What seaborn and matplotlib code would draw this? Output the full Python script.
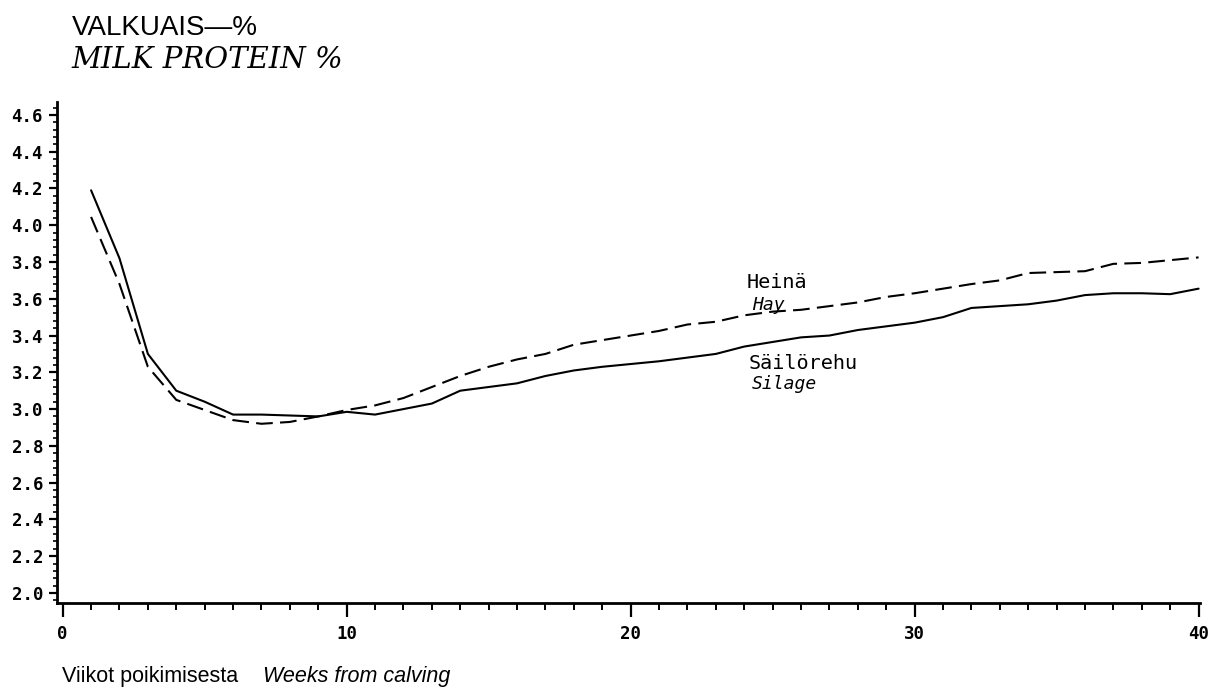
import numpy as np
import pandas as pd
import matplotlib
matplotlib.use("Agg")
import matplotlib.pyplot as plt
from matplotlib.ticker import MultipleLocator, FormatStrFormatter
import seaborn as sns

# Weekly mean milk protein content (%) by forage type
weeks = list(range(1, 41))
silage = [4.19, 3.82, 3.30, 3.10, 3.04, 2.97, 2.97, 2.965, 2.96, 2.985,
          2.97, 3.00, 3.03, 3.10, 3.12, 3.14, 3.18, 3.21, 3.23, 3.245,
          3.26, 3.28, 3.30, 3.34, 3.365, 3.39, 3.40, 3.43, 3.45, 3.47,
          3.50, 3.55, 3.56, 3.57, 3.59, 3.62, 3.63, 3.63, 3.625, 3.655]
hay = [4.045, 3.68, 3.23, 3.05, 2.995, 2.94, 2.92, 2.93, 2.96, 2.995,
       3.02, 3.06, 3.12, 3.18, 3.23, 3.27, 3.30, 3.35, 3.375, 3.40,
       3.425, 3.46, 3.475, 3.51, 3.53, 3.54, 3.56, 3.58, 3.61, 3.63,
       3.655, 3.68, 3.70, 3.74, 3.745, 3.75, 3.79, 3.795, 3.81, 3.825]
x_ticks = [0, 10, 20, 30, 40]
y_ticks = [2.0, 2.2, 2.4, 2.6, 2.8, 3.0, 3.2, 3.4, 3.6, 3.8, 4.0, 4.2, 4.4, 4.6]

df = pd.DataFrame({
    "week": weeks * 2,
    "protein": silage + hay,
    "feed": ["silage"] * len(weeks) + ["hay"] * len(weeks),
})

sns.set_style("ticks")
plt.rcParams["font.family"] = ["DejaVu Sans"]

fig = plt.figure(figsize=(12.26, 6.99), dpi=100)
ax = fig.add_axes([0.0465, 0.1373, 0.9323, 0.7167])

sns.lineplot(data=df, x="week", y="protein", style="feed",
             dashes={"silage": "", "hay": (8, 3.5)},
             color="black", linewidth=1.5, legend=False, ax=ax)

ax.set_xlim(-0.2, 40.05)
ax.set_ylim(1.945, 4.67)
ax.set_xticks(x_ticks)
ax.set_yticks(y_ticks)
ax.xaxis.set_minor_locator(MultipleLocator(1))
ax.yaxis.set_minor_locator(MultipleLocator(0.04))
ax.yaxis.set_major_formatter(FormatStrFormatter("%.1f"))
ax.set_xlabel("")
ax.set_ylabel("")

sns.despine(ax=ax)
for side in ("left", "bottom"):
    ax.spines[side].set_linewidth(2)
    ax.spines[side].set_color("black")

ax.tick_params(axis="x", which="major", direction="out", length=10, width=1.6,
               pad=6, colors="black")
ax.tick_params(axis="x", which="minor", direction="out", length=5, width=1.4,
               colors="black")
ax.tick_params(axis="y", which="major", direction="out", length=6, width=1.6,
               pad=4, colors="black")
ax.tick_params(axis="y", which="minor", direction="out", length=3, width=1.2,
               colors="black")
for lab in ax.get_xticklabels() + ax.get_yticklabels():
    lab.set_fontfamily("DejaVu Sans Mono")
    lab.set_fontweight("bold")
    lab.set_fontsize(12.5)

# Titles
fig.text(0.0585, 0.950, "VALKUAIS\u2014%", fontsize=20, family="Liberation Sans",
         ha="left", va="baseline", color="black")
fig.text(0.0585, 0.903, "MILK PROTEIN %", fontsize=21, family="DejaVu Serif",
         style="italic", ha="left", va="baseline", color="black")

# Series labels
ax.text(24.1, 3.658, "Heinä", fontsize=14.5, family="DejaVu Sans Mono",
        ha="left", va="baseline", color="black")
ax.text(24.27, 3.54, "Hay", fontsize=13, family="DejaVu Sans Mono",
        style="italic", ha="left", va="baseline", color="black")
ax.text(24.15, 3.22, "Säilörehu", fontsize=14.5, family="DejaVu Sans Mono",
        ha="left", va="baseline", color="black")
ax.text(24.27, 3.11, "Silage", fontsize=13, family="DejaVu Sans Mono",
        style="italic", ha="left", va="baseline", color="black")

# Axis caption
fig.text(0.0505, 0.0243, "Viikot poikimisesta", fontsize=15.5,
         family="Liberation Sans", ha="left", va="baseline", color="black")
fig.text(0.2145, 0.0243, "Weeks from calving", fontsize=15.5,
         family="Liberation Sans", style="italic", ha="left", va="baseline",
         color="black")

fig.savefig("out.png", dpi=100, facecolor="white")
